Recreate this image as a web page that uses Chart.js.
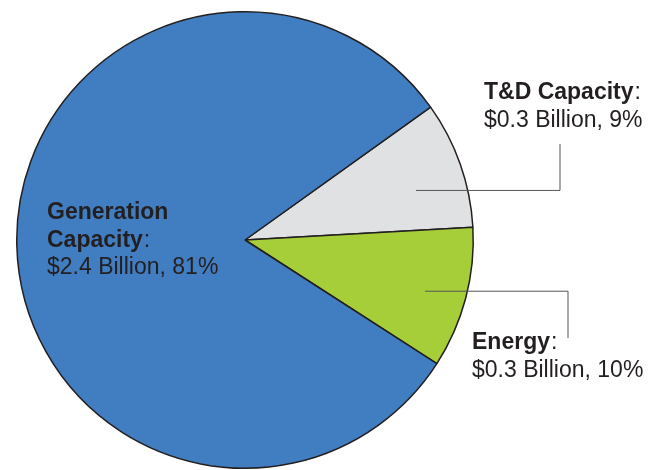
<!DOCTYPE html>
<html>
<head>
<meta charset="utf-8">
<script src="https://cdn.jsdelivr.net/npm/chart.js@4.4.1/dist/chart.umd.min.js"></script>
<style>
  body { margin: 0; background: #fff; }
  #wrap { width: 660px; height: 470px; position: relative; }
</style>
</head>
<body>
<div id="wrap"><canvas id="costChart"></canvas></div>
<script>
// data
const categories = ['T&D Capacity', 'Energy', 'Generation Capacity'];
const billions = ['$0.3 Billion', '$0.3 Billion', '$2.4 Billion'];
const shares = [9, 10, 81];
const colors = ['#E0E1E3', '#A6CE39', '#417DC1'];

const FONT = '"Liberation Sans", Arial, sans-serif';
const INK = '#231F20';

// label text with bold name and regular colon + value line
function drawLabel(ctx, x, y, nameLines, valueLine) {
    ctx.fillStyle = INK;
    ctx.textBaseline = 'alphabetic';
    ctx.textAlign = 'left';
    let yy = y;
    nameLines.forEach(function (line, i) {
        ctx.font = 'bold 23px ' + FONT;
        ctx.fillText(line, x, yy);
        if (i === nameLines.length - 1) {
            const w = ctx.measureText(line).width;
            ctx.font = '23px ' + FONT;
            ctx.fillText(':', x + w + 1, yy);
        }
        yy += 27.5;
    });
    ctx.font = '23px ' + FONT;
    ctx.fillText(valueLine, x, yy);
}

// point inside an arc, at a fraction of its sweep and of its radius
function arcPoint(a, f, r) {
    const ang = a.startAngle + (a.endAngle - a.startAngle) * f;
    return [a.x + Math.cos(ang) * a.outerRadius * r, a.y + Math.sin(ang) * a.outerRadius * r];
}

const labelPlugin = {
    id: 'pieLabels',
    afterDraw(chart) {
        const ctx = chart.ctx;
        const arcs = chart.getDatasetMeta(0).data;
        ctx.save();
        ctx.strokeStyle = '#555';
        ctx.lineWidth = 1;

        // T&D leader
        let p = arcPoint(arcs[0], 0.6, 0.78);
        ctx.beginPath();
        ctx.moveTo(p[0], p[1]);
        ctx.lineTo(560, p[1]);
        ctx.lineTo(560, 144);
        ctx.stroke();

        // Energy leader
        p = arcPoint(arcs[1], 0.53, 0.82);
        ctx.beginPath();
        ctx.moveTo(p[0], p[1]);
        ctx.lineTo(568, p[1]);
        ctx.lineTo(568, 338);
        ctx.stroke();

        drawLabel(ctx, 484, 99, ['T&D Capacity'], billions[0] + ', ' + shares[0] + '%');
        drawLabel(ctx, 472, 349, ['Energy'], billions[1] + ', ' + shares[1] + '%');
        drawLabel(ctx, 47, 219, ['Generation', 'Capacity'], billions[2] + ', ' + shares[2] + '%');
        ctx.restore();
    }
};

const ctxPie = document.getElementById('costChart').getContext('2d');
const pieChart = new Chart(ctxPie, {
    type: 'pie',
    data: {
        labels: categories,
        datasets: [{
            data: shares,
            backgroundColor: colors,
            borderColor: '#231F20',
            borderWidth: 1.5
        }]
    },
    options: {
        responsive: true,
        maintainAspectRatio: false,
        animation: false,
        rotation: 54.4,
        layout: { padding: { left: 16, right: 186, top: 11, bottom: 1 } },
        plugins: {
            legend: { display: false },
            tooltip: { enabled: false }
        }
    },
    plugins: [labelPlugin]
});
</script>
</body>
</html>
